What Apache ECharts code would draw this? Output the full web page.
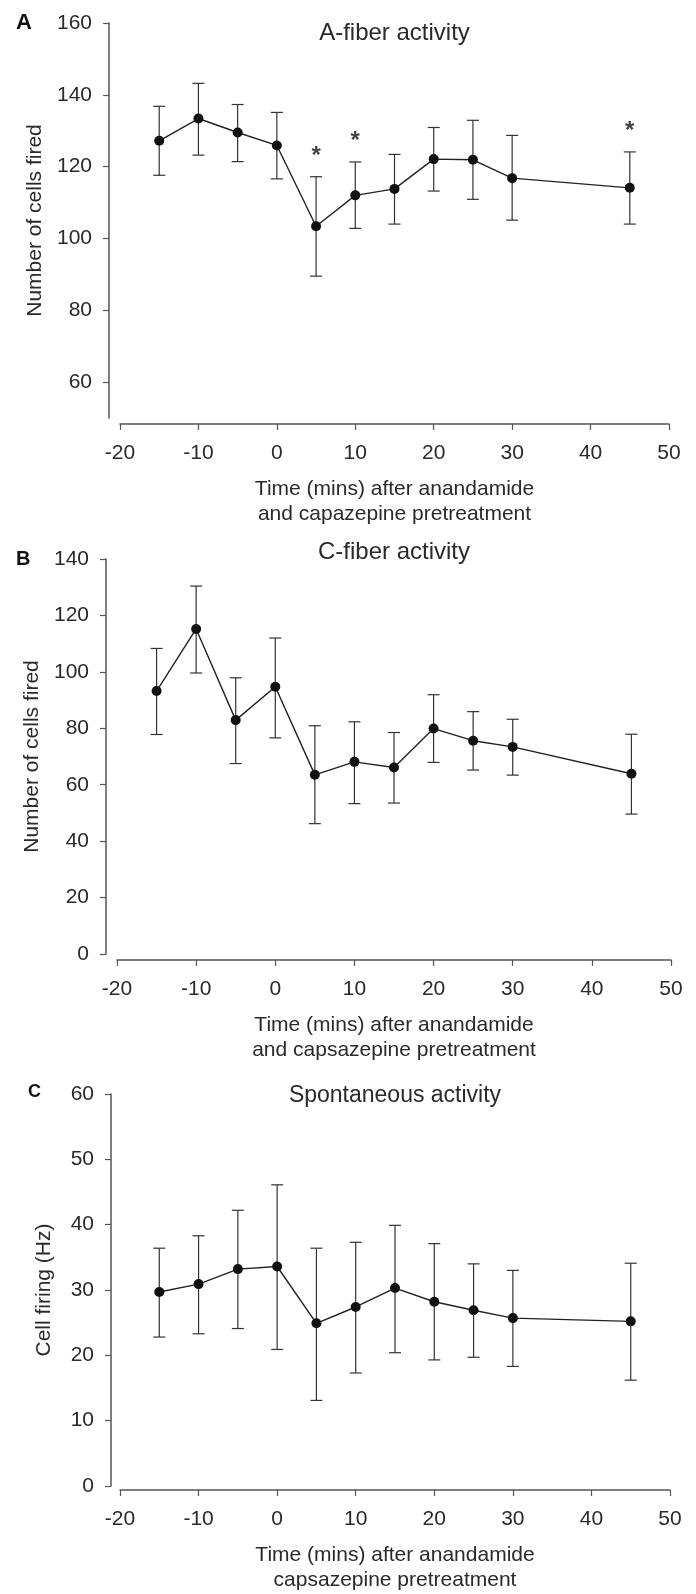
<!DOCTYPE html>
<html>
<head>
<meta charset="utf-8">
<script src="https://cdn.jsdelivr.net/npm/echarts@6/dist/echarts.min.js"></script>
<style>
html,body{margin:0;padding:0;background:#fff;}
#chart{width:696px;height:1594px;}
</style>
</head>
<body>
<div id="chart"></div>
<script>
// ---- data ----
const times = [-15, -10, -5, 0, 5, 10, 15, 20, 25, 30, 45];
const xTicks = [-20, -10, 0, 10, 20, 30, 40, 50];

// Panel A: A-fiber activity
const aMean  = [127.2, 133.4, 129.5, 125.9, 103.4, 112.0, 113.8, 122.1, 121.9, 116.8, 114.1];
const aUpper = [136.8, 143.2, 137.3, 135.1, 117.2, 121.3, 123.4, 130.9, 132.9, 128.7, 124.1];
const aLower = [117.6, 123.2, 121.4, 116.6, 89.5, 102.8, 104.0, 113.2, 110.9, 105.1, 104.0];
const aSig   = [5, 10, 45];
const aYTicks = [60, 80, 100, 120, 140, 160];

// Panel B: C-fiber activity
const bMean  = [93.2, 115.2, 82.9, 94.7, 63.5, 68.1, 66.1, 79.9, 75.6, 73.4, 63.9];
const bUpper = [108.3, 130.4, 97.9, 112.0, 80.9, 82.3, 78.5, 91.9, 85.9, 83.2, 77.9];
const bLower = [77.8, 99.6, 67.5, 76.6, 46.2, 53.3, 53.5, 67.9, 65.2, 63.4, 49.6];
const bYTicks = [0, 20, 40, 60, 80, 100, 120, 140];

// Panel C: Spontaneous activity
const cMean  = [29.7, 30.9, 33.2, 33.6, 24.9, 27.4, 30.3, 28.2, 26.9, 25.7, 25.2];
const cUpper = [36.4, 38.3, 42.2, 46.1, 36.4, 37.3, 39.9, 37.1, 34.0, 33.0, 34.1];
const cLower = [22.8, 23.3, 24.1, 20.9, 13.1, 17.3, 20.4, 19.3, 19.7, 18.3, 16.2];
const cYTicks = [0, 10, 20, 30, 40, 50, 60];

const titles = ['A-fiber activity', 'C-fiber activity', 'Spontaneous activity'];
const letters = ['A', 'B', 'C'];
const yNames = ['Number of cells fired', 'Number of cells fired', 'Cell firing (Hz)'];
const xNames = [
  'Time (mins) after anandamide\nand capazepine pretreatment',
  'Time (mins) after anandamide\nand capsazepine pretreatment',
  'Time (mins) after anandamide\ncapsazepine pretreatment'
];

// ---- layout ----
const FONT = '"Liberation Sans", Arial, sans-serif';
const AX = '#555';
const TXT = '#2a2a2a';
const panels = [
  {left: 120, right: 27, top: 23, height: 395, xOff: 6, yOff: 11, min: 50, max: 160, ticks: aYTicks,
   mean: aMean, up: aUpper, lo: aLower, letterX: 16, letterY: 12, letterSize: 22, titleY: 21, titleSize: 24, yGap: 57},
  {left: 117, right: 25, top: 559, height: 395, xOff: 6, yOff: 11, min: 0, max: 140, ticks: bYTicks,
   mean: bMean, up: bUpper, lo: bLower, letterX: 16, letterY: 549, letterSize: 20, titleY: 540, titleSize: 24, yGap: 54},
  {left: 120, right: 26, top: 1094, height: 395, xOff: 4, yOff: 9, min: 0, max: 60, ticks: cYTicks,
   mean: cMean, up: cUpper, lo: cLower, letterX: 28, letterY: 1083, letterSize: 18, titleY: 1084, titleSize: 23, yGap: 56}
];

const grid = [], xAxis = [], yAxis = [], series = [], title = [];

panels.forEach((p, i) => {
  grid.push({left: p.left, right: p.right, top: p.top, height: p.height, containLabel: false});
  xAxis.push({
    gridIndex: i, type: 'value', min: -20, max: 50, interval: 10, offset: p.xOff,
    axisLine: {show: true, onZero: false, lineStyle: {color: AX, width: 1.5}},
    axisTick: {show: true, length: 6, lineStyle: {color: AX, width: 1.2}, customValues: xTicks},
    axisLabel: {fontSize: 21, color: TXT, fontFamily: FONT, margin: 19, customValues: xTicks},
    splitLine: {show: false},
    name: xNames[i], nameLocation: 'middle', nameGap: 53,
    nameTextStyle: {fontSize: 21, color: TXT, fontFamily: FONT, lineHeight: 25}
  });
  yAxis.push({
    gridIndex: i, type: 'value', min: p.min, max: p.max, offset: p.yOff,
    axisLine: {show: true, onZero: false, lineStyle: {color: AX, width: 1.5}},
    axisTick: {show: true, length: 6, lineStyle: {color: AX, width: 1.2}, customValues: p.ticks},
    axisLabel: {fontSize: 21, color: TXT, fontFamily: FONT, margin: 17, customValues: p.ticks},
    splitLine: {show: false},
    name: yNames[i], nameLocation: 'middle', nameGap: p.yGap,
    nameTextStyle: {fontSize: 21, color: TXT, fontFamily: FONT}
  });
  title.push({
    text: titles[i], left: (p.left + 696 - p.right) / 2, top: p.titleY, textAlign: 'center', padding: 0,
    textStyle: {fontSize: p.titleSize, fontWeight: 'normal', color: TXT, fontFamily: FONT}
  });
  title.push({
    text: letters[i], left: p.letterX, top: p.letterY, padding: 0,
    textStyle: {fontSize: p.letterSize, fontWeight: 'bold', color: '#111', fontFamily: FONT}
  });

  series.push({
    type: 'custom', xAxisIndex: i, yAxisIndex: i, z: 2,
    data: times.map((t, k) => [t, p.lo[k], p.up[k]]),
    encode: {x: 0, y: [1, 2]},
    renderItem: function (params, api) {
      const x = api.value(0);
      const a = api.coord([x, api.value(1)]);
      const b = api.coord([x, api.value(2)]);
      const hw = 6;
      const st = {stroke: '#333', lineWidth: 1.2};
      return {type: 'group', children: [
        {type: 'line', shape: {x1: a[0], y1: a[1], x2: b[0], y2: b[1]}, style: st},
        {type: 'line', shape: {x1: a[0] - hw, y1: a[1], x2: a[0] + hw, y2: a[1]}, style: st},
        {type: 'line', shape: {x1: b[0] - hw, y1: b[1], x2: b[0] + hw, y2: b[1]}, style: st}
      ]};
    }
  });
  series.push({
    type: 'line', xAxisIndex: i, yAxisIndex: i, z: 3,
    data: times.map((t, k) => [t, p.mean[k]]),
    symbol: 'circle', symbolSize: 10, showSymbol: true,
    itemStyle: {color: '#111'},
    lineStyle: {color: '#222', width: 1.4},
    animation: false
  });
});

// significance asterisks in panel A
series.push({
  type: 'scatter', xAxisIndex: 0, yAxisIndex: 0, z: 4,
  data: aSig.map(t => [t, aUpper[times.indexOf(t)]]),
  symbolSize: 1, itemStyle: {color: 'rgba(0,0,0,0)'},
  label: {show: true, formatter: '*', position: 'top', distance: 8,
          fontSize: 24, fontWeight: 'bold', color: '#111', fontFamily: FONT},
  animation: false
});

const chart = echarts.init(document.getElementById('chart'), null, {renderer: 'canvas'});
chart.setOption({
  animation: false,
  backgroundColor: '#fff',
  title: title, grid: grid, xAxis: xAxis, yAxis: yAxis, series: series
});
</script>
</body>
</html>
